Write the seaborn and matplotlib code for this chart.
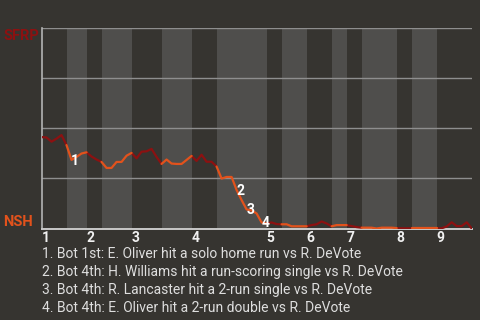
import matplotlib
matplotlib.use("Agg")
import matplotlib.pyplot as plt
import numpy as np
import pandas as pd
import seaborn as sns

# ---- data ----
# SFRP win probability (%) after each plate appearance
sfrp_wp = [45.6, 45.4, 43.3, 44.8, 46.6, 41.6, 34.2, 35.7, 37.4, 38.0,
           35.9, 34.4, 33.2, 30.2, 30.2, 33.2, 33.2, 36.3, 37.7, 35.0,
           38.3, 38.5, 39.7, 35.7, 32.2, 34.4, 32.4, 32.2, 32.2, 34.2,
           36.2, 33.7, 36.8, 33.3, 33.3, 30.9, 24.9, 25.7, 25.7, 19.2,
           14.2, 9.5, 9.0, 7.5, 3.0, 2.5, 3.0, 2.2, 2.1, 2.1,
           1.1, 1.1, 1.1, 1.1, 1.7, 2.1, 3.5, 2.5, 1.1, 1.7,
           1.7, 1.7, 1.2, 0.7, 0.4, 0.4, 0.4, 0.0, 0.4, 0.4,
           0.4, 0.2, 0.1, 0.1, 0.1, 0.1, 0.1, 0.1, 0.1, 0.1,
           0.1, 1.0, 3.1, 1.2, 1.2, 3.1, 0.0]
# plate-appearance index where each half inning begins/ends
half_bounds = [0, 5, 9, 12, 18, 24, 30, 35, 45, 48, 53, 58, 61, 64, 71, 74, 79, 86]
innings = ["1", "2", "3", "4", "5", "6", "7", "8", "9"]
event_idx = [6, 39, 41, 44]
event_labels = ["1", "2", "3", "4"]
event_text = [
    "1. Bot 1st: E. Oliver hit a solo home run vs R. DeVote",
    "2. Bot 4th: H. Williams hit a run-scoring single vs R. DeVote",
    "3. Bot 4th: R. Lancaster hit a 2-run single vs R. DeVote",
    "4. Bot 4th: E. Oliver hit a 2-run double vs R. DeVote",
]
away_team = "SFRP"
home_team = "NSH"

# ---- style ----
BG = "#363430"
BAND = "#4f4e4c"
RED = "#8c1111"
ORANGE = "#e2521c"
GRID = "#8e8e8e"

sns.set_style("dark", {"axes.facecolor": BG, "figure.facecolor": BG})
plt.rcParams["font.family"] = ["Roboto", "DejaVu Sans"]

rows = []
for h in range(len(half_bounds) - 1):
    a, b = half_bounds[h], half_bounds[h + 1]
    for i in range(a, b + 1):
        rows.append({"pa": i, "wp": sfrp_wp[i],
                     "half": "top" if h % 2 == 0 else "bot", "seg": h})
df = pd.DataFrame(rows)

fig = plt.figure(figsize=(4.8, 3.2), dpi=100)
W, H = 480, 320
x0, x1, ytop, ybot = 41.5, 471.7, 28.0, 228.5
ax = fig.add_axes([x0 / W, (H - ybot) / H, (x1 - x0) / W, (ybot - ytop) / H])
ax.set_facecolor(BG)

# half-inning bands (bottom halves lighter)
for h in range(1, len(half_bounds) - 1, 2):
    ax.axvspan(half_bounds[h], half_bounds[h + 1], color=BAND, lw=0, zorder=0)

sns.lineplot(data=df, x="pa", y="wp", hue="half", units="seg", estimator=None,
             palette={"top": RED, "bot": ORANGE}, lw=1.6, legend=False,
             sort=False, ax=ax, zorder=3)

ax.set_xlim(half_bounds[0], half_bounds[-1])
ax.set_ylim(0, 100)
ax.set_yticks([0, 25, 50, 75, 100])
ax.set_yticklabels([])
ax.set_axisbelow(True)
ax.yaxis.grid(True, color=GRID, lw=1.0)
ax.xaxis.grid(False)
ax.set_xlabel("")
ax.set_ylabel("")

starts = half_bounds[0:-1:2]
ax.set_xticks(starts)
ax.set_xticklabels(innings, ha="left", color="#f0f0f0", fontsize=10,
                   fontweight="bold")
ax.tick_params(axis="x", length=0, pad=1.5)
ax.tick_params(axis="y", length=0)

for s in ["top", "right"]:
    ax.spines[s].set_visible(False)
ax.spines["left"].set_color("#b4b4b4")
ax.spines["left"].set_linewidth(1.2)
ax.spines["bottom"].set_color("#c8c8c8")
ax.spines["bottom"].set_linewidth(1.4)

for idx, lbl in zip(event_idx, event_labels):
    ax.annotate(lbl, (idx, sfrp_wp[idx]), xytext=(3.5, -1),
                textcoords="offset pixels", ha="center", va="center",
                color="white", fontsize=10, fontweight="bold", zorder=5)

fig.text(3 / W, 1 - 40 / H, away_team, color=RED, fontsize=10.5,
         fontweight="bold", va="baseline", ha="left")
fig.text(3 / W, 1 - 226.5 / H, home_team, color=ORANGE, fontsize=10.5,
         fontweight="bold", va="baseline", ha="left")

baselines = [257.5, 275.8, 294.0, 312.0]
for t, b in zip(event_text, baselines):
    fig.text(42 / W, 1 - b / H, t, color="#dedede", fontsize=10,
             va="baseline", ha="left")

fig.savefig("out.png", dpi=100, facecolor=BG)
